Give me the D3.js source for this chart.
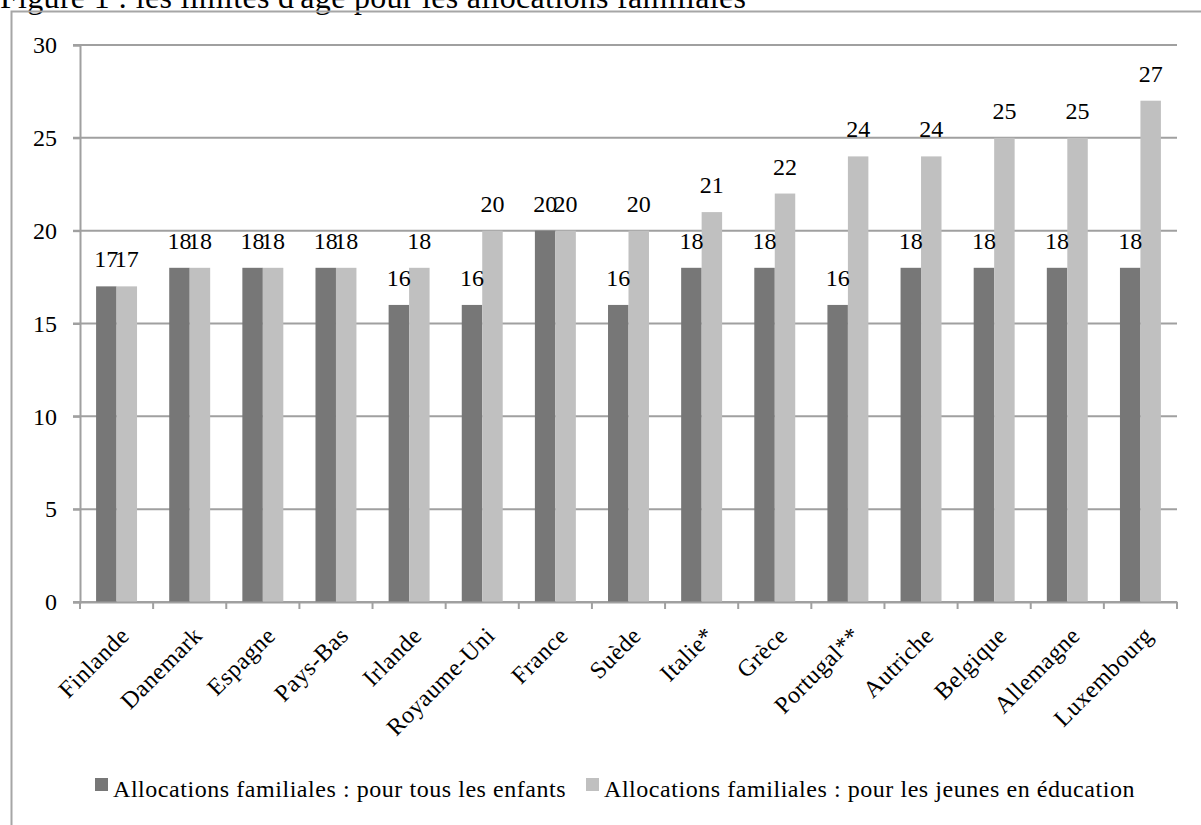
<!DOCTYPE html>
<html>
<head>
<meta charset="utf-8">
<script src="https://cdn.jsdelivr.net/npm/d3@7"></script>
<style>
	body { margin: 0; background: #fff; }
	svg { display: block; font-family: "Liberation Serif", "DejaVu Serif", serif; }
</style>
</head>
<body>
<div id="chart"></div>
<script>
// Data
const countries = ["Finlande", "Danemark", "Espagne", "Pays-Bas", "Irlande", "Royaume-Uni", "France",
	"Suède", "Italie*", "Grèce", "Portugal**", "Autriche", "Belgique", "Allemagne", "Luxembourg"];
const tousEnfants = [17, 18, 18, 18, 16, 16, 20, 16, 18, 18, 16, 18, 18, 18, 18];
const jeunesEducation = [17, 18, 18, 18, 18, 20, 20, 20, 21, 22, 24, 24, 25, 25, 27];
const seriesNames = ["Allocations familiales : pour tous les enfants",
	"Allocations familiales : pour les jeunes en éducation"];
const yTicks = [0, 5, 10, 15, 20, 25, 30];
const colors = ["#777777", "#c0c0c0"];

const width = 1201, height = 825;
const plot = { left: 80, right: 1177, top: 45, bottom: 602 };
const fs = "24px";

const svg = d3.select("#chart").append("svg")
	.attr("width", width).attr("height", height);

// title (cut at the top of the picture, as in the source)
svg.append("text")
	.attr("x", 0).attr("y", 8)
	.style("font-size", "32px")
	.style("letter-spacing", "0.3px")
	.text("Figure 1 : les limites d'âge pour les allocations familiales");

// chart frame
svg.append("path")
	.attr("d", `M11.5,${height} V11.5 H${width}`)
	.attr("fill", "none").attr("stroke", "#a6a6a6").attr("stroke-width", 2);

// scales
const x = d3.scaleBand(countries, [plot.left, plot.right]).paddingInner(0.44).paddingOuter(0.22);
const xs = d3.scaleBand([0, 1], [0, x.bandwidth()]);
const y = d3.scaleLinear([0, 30], [plot.bottom, plot.top]);

// grid
svg.append("g").selectAll("line").data(yTicks).join("line")
	.attr("x1", plot.left - 7).attr("x2", plot.right)
	.attr("y1", d => y(d)).attr("y2", d => y(d))
	.attr("stroke", "#a0a0a0").attr("stroke-width", 2);

// y axis
const axisY = svg.append("g").attr("transform", `translate(${plot.left},0)`)
	.call(d3.axisLeft(y).tickValues(yTicks).tickSize(7).tickPadding(16));
axisY.select(".domain").attr("stroke", "#a0a0a0").attr("stroke-width", 2);
axisY.selectAll(".tick line").attr("stroke", "#a0a0a0").attr("stroke-width", 2);
axisY.selectAll(".tick text").attr("fill", "#000")
	.style("font-size", fs).style("font-family", "Liberation Serif");

// bars
const groups = svg.append("g").selectAll("g").data(countries).join("g")
	.attr("transform", d => `translate(${x(d)},0)`);

groups.selectAll("rect")
	.data((d, i) => [tousEnfants[i], jeunesEducation[i]])
	.join("rect")
	.attr("x", (d, j) => xs(j))
	.attr("width", xs.bandwidth())
	.attr("y", d => y(d))
	.attr("height", d => y(0) - y(d))
	.attr("fill", (d, j) => colors[j]);

groups.selectAll("text.val")
	.data((d, i) => [tousEnfants[i], jeunesEducation[i]])
	.join("text").classed("val", true)
	.attr("x", (d, j) => xs(j) + xs.bandwidth() / 2)
	.attr("y", d => y(d) - 19)
	.attr("text-anchor", "middle")
	.style("font-size", fs)
	.text(d => d);

// x axis
const axisX = svg.append("g").attr("transform", `translate(0,${plot.bottom})`)
	.call(d3.axisBottom(x).tickSize(0).tickFormat(""));
axisX.select(".domain").attr("stroke", "#a0a0a0").attr("stroke-width", 2);
axisX.selectAll(".tick").remove();

const bounds = countries.map(d => x(d) - x.step() * x.paddingInner() / 2).concat([plot.right]);
svg.append("g").selectAll("line").data(bounds).join("line")
	.attr("x1", d => d).attr("x2", d => d)
	.attr("y1", plot.bottom).attr("y2", plot.bottom + 7)
	.attr("stroke", "#a0a0a0").attr("stroke-width", 2);

svg.append("g").selectAll("text").data(countries).join("text")
	.attr("transform", d => `translate(${x(d) + x.bandwidth() / 2 + 14},${plot.bottom + 35}) rotate(-45)`)
	.attr("text-anchor", "end")
	.style("font-size", fs)
	.style("letter-spacing", "0.5px")
	.text(d => d);

// legend
const legendX = [95, 586];
const legend = svg.append("g").selectAll("g").data(seriesNames).join("g")
	.attr("transform", (d, i) => `translate(${legendX[i]},778)`);
legend.append("rect").attr("width", 13).attr("height", 13).attr("fill", (d, i) => colors[i]);
legend.append("text").attr("x", 18).attr("y", 19)
	.style("font-size", fs)
	.style("letter-spacing", "0.55px")
	.text(d => d);
</script>
</body>
</html>
